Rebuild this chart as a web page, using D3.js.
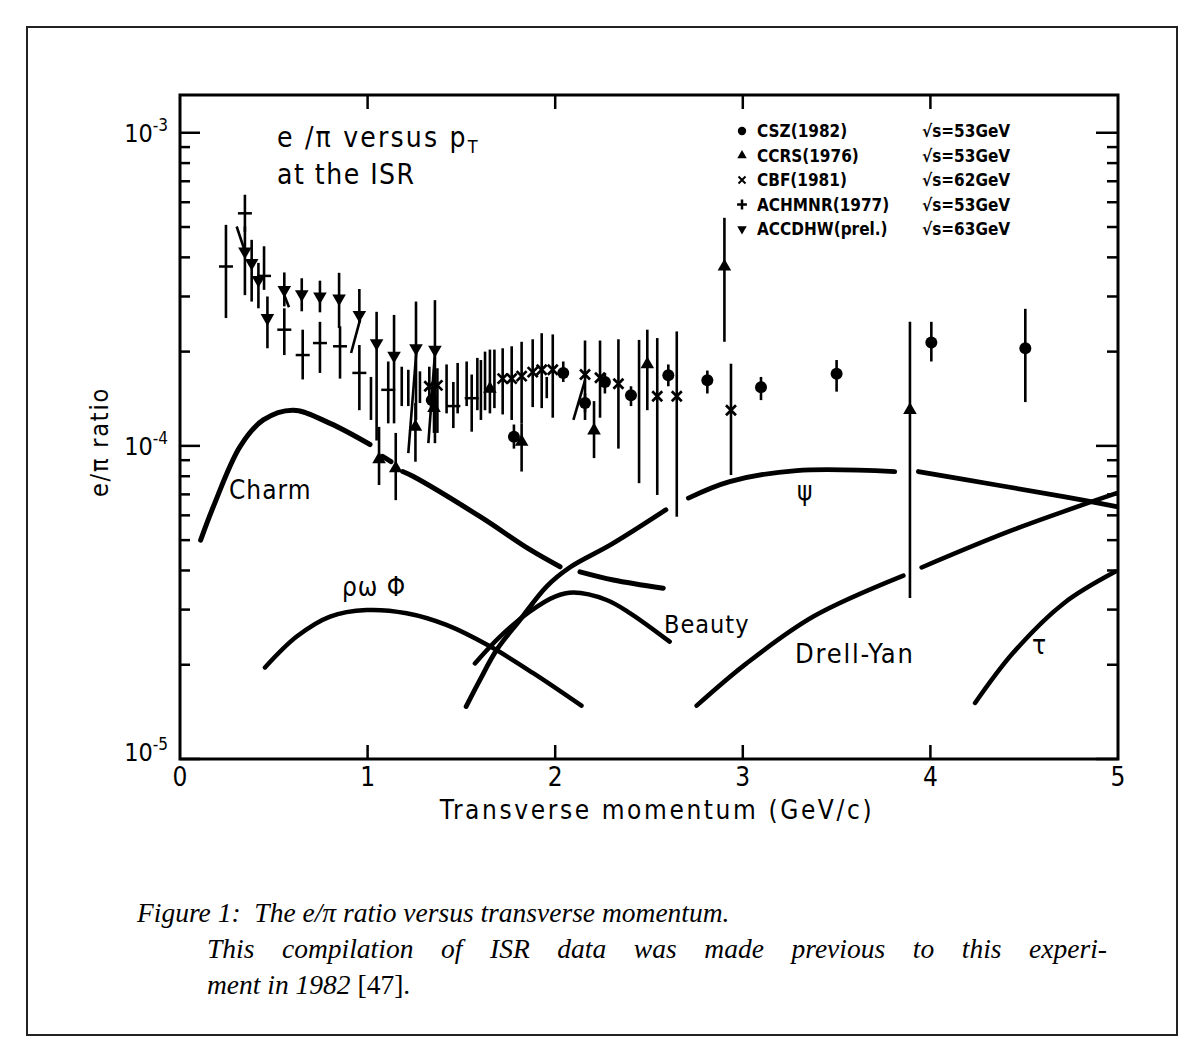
<!DOCTYPE html>
<html><head><meta charset="utf-8">
<script src="https://cdn.jsdelivr.net/npm/d3@7"></script>
<style>body{margin:0;background:#fff}svg{display:block}</style>
</head><body>
<svg id="c" width="1203" height="1062"></svg>
<script>
// ---------- data ----------
const xTickValues = [0, 1, 2, 3, 4, 5];
const xTickInner = [1, 2, 3, 4];
const yMajorTicks = [1e-5, 1e-4, 1e-3];
const yMajorLabels = ["-5", "-4", "-3"];

// [pT, value, low, high]
const cszData = [
  [1.342,1.40e-4,1.32e-4,1.48e-4],[1.780,1.07e-4,9.8e-5,1.17e-4],[2.043,1.71e-4,1.60e-4,1.86e-4],
  [2.159,1.37e-4,1.28e-4,1.47e-4],[2.265,1.60e-4,1.47e-4,1.71e-4],[2.404,1.45e-4,1.34e-4,1.55e-4],
  [2.603,1.68e-4,1.55e-4,1.82e-4],[2.811,1.62e-4,1.47e-4,1.74e-4],[3.097,1.54e-4,1.40e-4,1.66e-4],
  [3.50,1.70e-4,1.49e-4,1.88e-4],[4.005,2.14e-4,1.86e-4,2.49e-4],[4.506,2.05e-4,1.38e-4,2.74e-4]
];
const ccrsData = [
  [1.061,9.06e-5,7.5e-5,1.15e-4],[1.15,8.48e-5,6.71e-5,1.10e-4],[1.255,1.15e-4,8.9e-5,1.37e-4],
  [1.354,1.32e-4,1.10e-4,1.55e-4],[1.652,1.52e-4,1.27e-4,2.03e-4],[1.821,1.03e-4,8.28e-5,1.18e-4],
  [2.207,1.12e-4,9.14e-5,1.39e-4],[2.491,1.82e-4,1.30e-4,2.35e-4],[2.902,3.74e-4,2.15e-4,5.35e-4],
  [3.891,1.30e-4,3.27e-5,2.49e-4]
];
const cbfData = [
  [1.329,1.55e-4,1.35e-4,1.79e-4],[1.372,1.56e-4,1.10e-4,1.77e-4],[1.720,1.64e-4,1.26e-4,2.05e-4],
  [1.768,1.64e-4,1.21e-4,2.08e-4],[1.821,1.67e-4,1.18e-4,2.15e-4],[1.880,1.72e-4,1.33e-4,2.19e-4],
  [1.928,1.75e-4,1.32e-4,2.29e-4],[1.987,1.75e-4,1.23e-4,2.27e-4],[2.159,1.69e-4,1.21e-4,2.17e-4],
  [2.239,1.65e-4,1.23e-4,2.17e-4],[2.337,1.58e-4,9.8e-5,2.19e-4],[2.544,1.44e-4,6.97e-5,2.21e-4],
  [2.648,1.44e-4,5.94e-5,2.32e-4],[2.937,1.30e-4,8.07e-5,1.83e-4]
];
const achmnrData = [
  [0.245,3.74e-4,2.56e-4,5.08e-4],[0.346,5.53e-4,4.82e-4,6.34e-4],[0.448,3.49e-4,3.15e-4,4.34e-4],
  [0.556,2.35e-4,1.95e-4,2.75e-4],[0.654,1.95e-4,1.63e-4,2.35e-4],[0.746,2.13e-4,1.71e-4,2.49e-4],
  [0.853,2.08e-4,1.64e-4,2.41e-4],[0.956,1.71e-4,1.30e-4,2.10e-4],[1.11,1.51e-4,1.18e-4,1.86e-4],
  [1.457,1.34e-4,1.14e-4,1.60e-4],[1.555,1.42e-4,1.11e-4,1.69e-4]
];
const accdhwData = [
  [0.346,4.18e-4,3.03e-4,5.02e-4],[0.382,3.84e-4,2.89e-4,4.55e-4],[0.418,3.39e-4,2.75e-4,3.84e-4],
  [0.466,2.56e-4,2.05e-4,3.00e-4],[0.556,3.15e-4,2.79e-4,3.58e-4],[0.649,3.05e-4,2.69e-4,3.43e-4],
  [0.746,3.00e-4,2.67e-4,3.37e-4],[0.848,2.96e-4,2.38e-4,3.57e-4],[0.956,2.62e-4,2.47e-4,3.17e-4],
  [1.048,2.13e-4,1.04e-4,2.68e-4],[1.141,1.94e-4,1.18e-4,2.62e-4],[1.258,2.05e-4,1.21e-4,2.89e-4],
  [1.359,2.03e-4,1.02e-4,2.92e-4]
];
// error bars without visible marker: [pT, low, high]
const unmarkedBars = [
  [1.018,1.21e-4,1.66e-4],[1.182,1.34e-4,1.79e-4],[1.217,1.34e-4,1.75e-4],[1.279,1.37e-4,1.73e-4],
  [1.421,1.27e-4,1.82e-4],[1.480,1.27e-4,1.84e-4],[1.528,1.34e-4,1.86e-4],[1.585,1.30e-4,1.91e-4],
  [1.604,1.21e-4,1.88e-4],[1.626,1.30e-4,2.00e-4],[1.676,1.32e-4,2.03e-4],[1.955,1.42e-4,1.66e-4],
  [2.447,7.6e-5,2.18e-4]
];
// slanted bars: [pT1, v1, pT2, v2]
const slantBars = [
  [0.302,5.02e-4,0.346,4.18e-4],[0.556,3.03e-4,0.581,2.77e-4],[0.912,1.98e-4,0.960,2.53e-4],
  [1.217,9.48e-5,1.262,2.07e-4],[1.324,1.02e-4,1.359,1.98e-4],[2.097,1.21e-4,2.159,1.62e-4]
];

// theory curves [pT, value], null = gap
const charmCurve = [[0.11,5.0e-5],[0.178,6.4e-5],[0.32,9.95e-5],[0.444,1.21e-4],[0.604,1.30e-4],
  [0.80,1.18e-4],[1.013,1.01e-4],null,[1.08,9.25e-5],[1.125,8.9e-5],null,[1.187,8.28e-5],[1.244,7.98e-5],
  [1.60,5.94e-5],[1.866,4.66e-5],[2.026,4.11e-5],null,[2.132,3.96e-5],[2.31,3.73e-5],[2.576,3.51e-5]];
const rhoCurve = [[0.453,1.96e-5],[0.622,2.46e-5],[0.80,2.85e-5],[0.995,2.99e-5],[1.208,2.92e-5],
  [1.42,2.68e-5],[1.652,2.29e-5],[1.883,1.88e-5],[2.14,1.48e-5]];
const beautyCurve = [[1.572,2.02e-5],[1.706,2.46e-5],[1.866,2.96e-5],[1.999,3.30e-5],[2.097,3.40e-5],
  [2.274,3.22e-5],[2.40,2.92e-5],[2.61,2.37e-5]];
const psiCurve = [[1.525,1.47e-5],[1.599,1.79e-5],[1.688,2.23e-5],[1.812,2.78e-5],[1.955,3.56e-5],
  [2.08,4.1e-5],[2.30,4.85e-5],[2.59,6.25e-5],null,[2.71,6.81e-5],[2.93,7.69e-5],[3.287,8.34e-5],
  [3.81,8.28e-5],null,[3.936,8.28e-5],[4.353,7.50e-5],[4.71,6.89e-5],[4.993,6.40e-5]];
const drellYanCurve = [[2.754,1.48e-5],[3.02,2.02e-5],[3.376,2.85e-5],[3.856,3.85e-5],null,
  [3.953,4.09e-5],[4.44,5.39e-5],[4.993,7.06e-5]];
const tauCurve = [[4.238,1.51e-5],[4.44,2.18e-5],[4.71,3.14e-5],[4.984,3.96e-5]];

const legendNames = ["CSZ(1982)", "CCRS(1976)", "CBF(1981)", "ACHMNR(1977)", "ACCDHW(prel.)"];
const legendEnergies = ["53GeV", "53GeV", "62GeV", "53GeV", "63GeV"];
const legendSymbols = ["circle", "up", "cross", "plus", "down"];

// ---------- drawing ----------
const svg = d3.select("#c");
const font = "'DejaVu Sans Condensed','DejaVu Sans',sans-serif";
const plot = {left:180, right:1118, top:95, bottom:759};
const x = d3.scaleLinear().domain([0,5]).range([plot.left, plot.right]);
const y = d3.scaleLog().domain([1e-5,1.32e-3]).range([plot.bottom, plot.top]);

svg.append("rect").attr("x",0).attr("y",0).attr("width",1203).attr("height",1062).attr("fill","#fff");
// outer border
svg.append("rect").attr("x",27).attr("y",27).attr("width",1150).attr("height",1008)
  .attr("fill","none").attr("stroke","#222").attr("stroke-width",2);

// frame
svg.append("rect").attr("x",plot.left).attr("y",plot.top)
  .attr("width",plot.right-plot.left).attr("height",plot.bottom-plot.top)
  .attr("fill","none").attr("stroke","#000").attr("stroke-width",3);

// ticks
const minor = [];
[1e-5,1e-4,1e-3].forEach(d => { for (let k=2;k<=9;k++){ const v=k*d; if (v<1.32e-3) minor.push(v);} });
const tk = svg.append("g").attr("stroke","#000").attr("stroke-width",2.5);
yMajorTicks.forEach(v => {
  tk.append("line").attr("x1",plot.left).attr("x2",plot.left+20).attr("y1",y(v)).attr("y2",y(v));
  tk.append("line").attr("x1",plot.right).attr("x2",plot.right-22).attr("y1",y(v)).attr("y2",y(v));
});
minor.forEach(v => {
  tk.append("line").attr("x1",plot.left).attr("x2",plot.left+10).attr("y1",y(v)).attr("y2",y(v));
  tk.append("line").attr("x1",plot.right).attr("x2",plot.right-11).attr("y1",y(v)).attr("y2",y(v));
});
xTickInner.forEach(v => {
  tk.append("line").attr("x1",x(v)).attr("x2",x(v)).attr("y1",plot.bottom).attr("y2",plot.bottom-14);
  tk.append("line").attr("x1",x(v)).attr("x2",x(v)).attr("y1",plot.top).attr("y2",plot.top+14);
});

// y tick labels
yMajorTicks.forEach((v,i) => {
  const t = svg.append("text").attr("x",plot.left-12).attr("y",y(v)+(i===0?2:9))
    .attr("text-anchor","end").attr("font-family",font).attr("font-size",25).attr("fill","#000");
  t.append("tspan").text("10");
  t.append("tspan").attr("dy",-11).attr("font-size",17).text(yMajorLabels[i]);
});
// x tick labels
xTickValues.forEach(v => {
  svg.append("text").attr("x",x(v)).attr("y",plot.bottom+27).attr("text-anchor","middle")
    .attr("font-family",font).attr("font-size",26).text(v);
});
// axis titles
svg.append("text").attr("x",(plot.left+plot.right)/2+8).attr("y",819).attr("text-anchor","middle")
  .attr("font-family",font).attr("font-size",26).attr("letter-spacing",2.6)
  .text("Transverse momentum (GeV/c)");
svg.append("text").attr("transform","translate(108,442) rotate(-90)").attr("text-anchor","middle")
  .attr("font-family",font).attr("font-size",25).attr("letter-spacing",1.8).text("e/π ratio");

// title inside
const t1 = svg.append("text").attr("x",277).attr("y",147).attr("font-family",font).attr("font-size",28).attr("letter-spacing",2.2);
t1.append("tspan").text("e /π versus p");
t1.append("tspan").attr("dy",6).attr("font-size",18).text("T");
svg.append("text").attr("x",277).attr("y",184).attr("font-family",font).attr("font-size",28).attr("letter-spacing",1.5).text("at the ISR");

// curves
const line = d3.line().defined(d => d !== null).x(d => x(d[0])).y(d => y(d[1])).curve(d3.curveCatmullRom.alpha(0.5));
const cg = svg.append("g").attr("fill","none").attr("stroke","#000").attr("stroke-linecap","round");
[[charmCurve,5],[rhoCurve,4.5],[beautyCurve,4.5],[psiCurve,4.8],[drellYanCurve,4.5],[tauCurve,4.5]].forEach(([c,w]) => {
  cg.append("path").attr("d",line(c)).attr("stroke-width",w);
});

// curve labels
const lab = (tx,xx,yy,fs,ls) => svg.append("text").attr("x",xx).attr("y",yy).attr("font-family",font)
  .attr("font-size",fs).attr("letter-spacing",ls).text(tx);
lab("Charm",229,499,26,1);
lab("ρω Φ",342,596,26,1);
lab("Beauty",664,633,25,1);
lab("Drell-Yan",795,663,27,1.8);
lab("ψ",797,500,26,0);
lab("τ",1032,654,26,0);

// error bars
const eb = svg.append("g").attr("stroke","#000").attr("stroke-width",2.6);
[cszData,ccrsData,cbfData,achmnrData,accdhwData].forEach(ds => ds.forEach(d => {
  eb.append("line").attr("x1",x(d[0])).attr("x2",x(d[0])).attr("y1",y(d[2])).attr("y2",y(d[3]));
}));
unmarkedBars.forEach(d => eb.append("line").attr("x1",x(d[0])).attr("x2",x(d[0])).attr("y1",y(d[1])).attr("y2",y(d[2])));
slantBars.forEach(d => eb.append("line").attr("x1",x(d[0])).attr("x2",x(d[2])).attr("y1",y(d[1])).attr("y2",y(d[3])));

// markers
function marker(g, type, cx, cy, s) {
  if (type==="circle") g.append("circle").attr("cx",cx).attr("cy",cy).attr("r",6*s).attr("fill","#000");
  else if (type==="up") g.append("path").attr("transform",`translate(${cx},${cy})`)
    .attr("d",d3.symbol(d3.symbolTriangle, 80*s*s)()).attr("fill","#000");
  else if (type==="down") g.append("path").attr("transform",`translate(${cx},${cy}) rotate(180)`)
    .attr("d",d3.symbol(d3.symbolTriangle, 80*s*s)()).attr("fill","#000");
  else if (type==="cross") { const r=5*s;
    g.append("path").attr("d",`M${cx-r},${cy-r}L${cx+r},${cy+r}M${cx-r},${cy+r}L${cx+r},${cy-r}`)
     .attr("stroke","#000").attr("stroke-width",2.4*s+0.3); }
  else if (type==="plus") { const r=7*s;
    g.append("path").attr("d",`M${cx-r},${cy}L${cx+r},${cy}` + (s<1?`M${cx},${cy-r}L${cx},${cy+r}`:""))
     .attr("stroke","#000").attr("stroke-width",2.5); }
}
const mg = svg.append("g");
[[cszData,"circle"],[ccrsData,"up"],[cbfData,"cross"],[achmnrData,"plus"],[accdhwData,"down"]].forEach(([ds,t]) =>
  ds.forEach(d => marker(mg,t,x(d[0]),y(d[1]),1)));

// legend
const lg = svg.append("g");
legendNames.forEach((n,i) => {
  const yy = 131 + i*24.5;
  marker(lg, legendSymbols[i], 742, yy, 0.7);
  lg.append("text").attr("x",757).attr("y",yy+6).attr("font-family",font).attr("font-weight","bold")
    .attr("font-size",17).text(n);
  lg.append("text").attr("x",922).attr("y",yy+6).attr("font-family",font).attr("font-weight","bold")
    .attr("font-size",17).text("√s=" + legendEnergies[i]);
});

// caption
const capFont = "'Liberation Serif','Times New Roman',serif";
const c1 = svg.append("text").attr("x",137).attr("y",922).attr("font-family",capFont).attr("font-style","italic").attr("font-size",27.5);
c1.text("Figure 1:  The e/π ratio versus transverse momentum.").attr("xml:space","preserve");
const c2 = svg.append("text").attr("x",207).attr("y",958).attr("font-family",capFont).attr("font-style","italic").attr("font-size",27.5)
  .text("This compilation of ISR data was made previous to this experi-");
const w2 = c2.node().getComputedTextLength();
c2.attr("word-spacing", Math.max(0,(900 - w2)/10));
const c3 = svg.append("text").attr("x",207).attr("y",994).attr("font-family",capFont).attr("font-size",27.5);
c3.append("tspan").attr("font-style","italic").text("ment in 1982 ");
c3.append("tspan").text("[47].");
</script>
</body></html>
